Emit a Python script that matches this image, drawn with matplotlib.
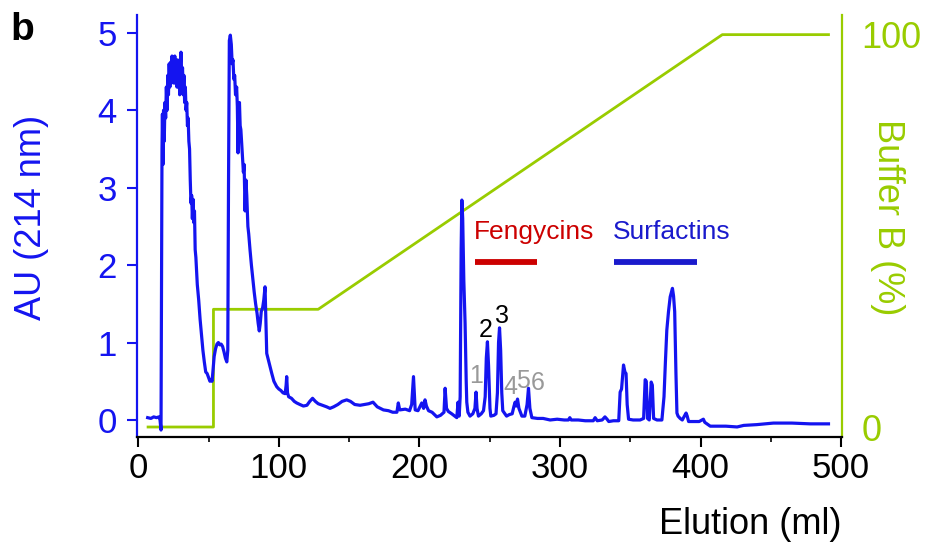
import matplotlib
matplotlib.use("Agg")
import matplotlib.pyplot as plt
from matplotlib.ticker import MultipleLocator

plt.rcParams['font.family'] = ['Liberation Sans', 'DejaVu Sans']

BLUE = '#1414f0'
GREEN = '#99cc00'
RED = '#cc0000'

# Chromatogram trace (Elution ml, AU at 214 nm)
elution = [6.7, 9, 11, 13, 14.7, 15.5, 16.2, 16.6, 16.9, 17.2, 17.6, 18.0, 18.5, 19.0, 19.5, 20, 20.5, 21, 21.5,
           22, 22.5, 23, 23.5, 24, 24.5, 25, 25.5, 26, 26.5, 27, 27.5, 28, 28.5, 29, 29.5, 30, 30.4, 31, 31.5,
           32, 32.5, 33, 33.5, 34, 34.5, 35, 35.5, 36, 36.5, 37, 37.5, 38, 38.5, 39, 39.5, 40, 40.5, 41, 42,
           43, 44, 45, 46, 47, 48, 49, 50, 51, 52, 52.5, 53, 54, 55, 56, 57, 58, 59, 60, 61, 62, 63, 63.7,
           64.2, 64.8, 65.5, 66.2, 66.8, 67.4, 68, 68.6, 69.2, 70, 70.5, 71, 71.5, 72, 72.5, 73, 73.5, 74.2,
           74.8, 75.3, 76, 76.6, 77.2, 78, 78.6, 79.5, 80.5, 81.5, 82.5, 83.5, 84.5, 85.3, 86.1, 86.8, 87.5,
           88.5, 89.3, 90.2, 90.8, 91.4, 92.5, 93.7, 95, 96.5, 98.5, 100, 101.5, 103, 104.5, 105.2, 105.6,
           106.2, 107, 109, 111, 112.7, 115, 117.5, 120, 122, 124, 126, 128, 131, 134, 136.4, 139, 142, 145,
           148.3, 151, 154, 157.8, 161, 164, 167, 170, 174.4, 178, 181, 184, 185, 186, 190, 193, 194.5,
           195.8, 197, 199, 201.7, 203, 204, 205, 206.5, 209, 212.4, 215, 217.5, 218.3, 219.3, 220.6, 223,
           226.6, 227.5, 228.3, 229, 229.7, 230.2, 230.8, 231.6, 232.5, 233.3, 233.7, 234.5, 236, 238,
           239.5, 240.3, 241, 242, 244, 245.6, 246.8, 247.6, 248.4, 249.2, 250.2, 250.8, 253, 254.5, 255.5,
           256.3, 257, 257.8, 258.6, 259.3, 262, 264, 266, 267.3, 268.1, 268.9, 269.8, 270.8, 272.9, 275,
           276.6, 277.6, 278.6, 280, 284, 288, 293, 298, 303, 306, 307, 308, 313, 318, 323.7, 325, 326.5,
           330, 332, 333.5, 334.7, 338, 341.8, 342.8, 343.8, 345.2, 346.2, 347, 347.8, 348.8, 352, 357,
           359.5, 360.6, 361.4, 362.3, 363.5, 364.9, 365.7, 366.6, 369, 372.5, 374, 375, 376, 377.2, 378.4,
           380, 380.8, 381.6, 382.5, 383.2, 384, 385.5, 387, 388.5, 389.7, 390.5, 391.5, 395, 399, 402, 403,
           406.9, 412, 418, 426, 430.7, 440, 451.8, 465, 478, 491]
au = [0.03, 0.02, 0.04, 0.03, 0.04, 0.0, -0.13, 2.0, 3.5, 3.95, 3.3, 4.0, 3.6, 4.1, 3.9, 4.3, 4.0, 4.45, 4.2,
      4.6, 4.3, 4.62, 4.35, 4.7, 4.4, 4.65, 4.35, 4.7, 4.4, 4.6, 4.3, 4.65, 4.3, 4.55, 4.2, 4.6, 4.75, 4.4, 4.55,
      4.2, 4.45, 4.1, 4.3, 4.0, 4.1, 3.8, 3.9, 3.6, 3.5, 3.1, 2.8, 2.9, 2.6, 2.85, 2.55, 2.7, 2.2, 2.1, 1.75,
      1.55, 1.3, 1.1, 0.9, 0.75, 0.62, 0.6, 0.55, 0.5, 0.52, 0.5, 0.6, 0.82, 0.92, 0.98, 1.0, 0.97, 0.98, 0.95,
      0.88, 0.8, 0.75, 0.9,
      3.0, 4.9, 4.97, 4.85, 4.6, 4.65, 4.4, 4.45, 4.2, 4.3, 4.05, 3.45, 4.0, 4.1, 3.8, 3.75, 3.6, 3.4,
      3.2, 3.3, 2.7, 3.1, 2.9, 2.5, 2.4, 2.2, 2.0, 1.82, 1.65, 1.5, 1.38, 1.25, 1.15, 1.25, 1.4,
      1.45, 1.55, 1.72, 1.3, 0.86, 0.78, 0.69, 0.6, 0.5, 0.43, 0.4, 0.38, 0.35, 0.34, 0.45, 0.56,
      0.35, 0.3, 0.28, 0.24, 0.22, 0.2, 0.18, 0.19, 0.24, 0.28, 0.24, 0.21, 0.19, 0.17, 0.15, 0.17, 0.2, 0.24,
      0.26, 0.24, 0.2, 0.19, 0.2, 0.21, 0.23, 0.17, 0.13, 0.12, 0.1, 0.1, 0.22, 0.13, 0.14, 0.12, 0.2,
      0.56, 0.13, 0.12, 0.22, 0.15, 0.26, 0.18, 0.12, 0.1, 0.04, 0.06, 0.1, 0.41, 0.15, 0.11, 0.08,
      0.03, 0.23, 0.05, 0.3, 2.2, 2.84, 2.6, 1.8, 1.25, 0.5, 0.23, 0.1, 0.05, 0.08,
      0.15, 0.36, 0.15, 0.05, 0.08, 0.12, 0.3, 0.8, 1.01, 0.7, 0.15, 0.05, 0.06, 0.08, 0.35,
      1.0, 1.19, 0.9, 0.35, 0.12, 0.05, 0.07, 0.08, 0.18, 0.23, 0.18, 0.27, 0.15, 0.05, 0.05,
      0.2, 0.41, 0.15, 0.03, 0.02, 0.02, 0.0, 0.01, 0.0, 0.0, 0.03, 0.0, 0.0, -0.01, -0.01, 0.03, -0.01,
      0.0, 0.04, 0.01, -0.02, -0.01, -0.01, 0.36, 0.4, 0.71, 0.62, 0.6, 0.2, 0.01, 0.0, 0.0,
      0.02, 0.52, 0.5, 0.02, 0.0, 0.49, 0.45, 0.02, 0.0, 0.0, 0.3, 0.75, 1.16, 1.4, 1.59,
      1.7, 1.6, 1.4, 0.6, 0.09, 0.05, 0.02, 0.0, 0.05, 0.09, 0.05, -0.02, -0.02, -0.02, 0.01, -0.03,
      -0.08, -0.08, -0.08, -0.09, -0.07, -0.06, -0.04, -0.04, -0.05, -0.05]

# Buffer B gradient (%)
grad_ml = [7, 53.5, 53.5, 128, 415.5, 491]
grad_pct = [0, 0, 30, 30, 100, 100]

# Peak labels
peak_labels = ['1', '2', '3', '4', '5', '6']
peak_x = [240.3, 246.9, 258.6, 264.6, 273.5, 283.8]
peak_y = [0.474, 1.076, 1.249, 0.336, 0.413, 0.388]
peak_colors = ['#999999', 'black', 'black', '#999999', '#999999', '#999999']

# Fraction bars
groups = ['Fengycins', 'Surfactins']
group_start = [239.6, 338.6]
group_end = [283.7, 397.4]
group_colors = [RED, '#1a1acc']

fig = plt.figure(figsize=(9.28, 5.52), dpi=100)
ax = fig.add_axes([0.1473, 0.2083, 0.7600, 0.7645])
ax2 = ax.twinx()

ax2.plot(grad_ml, grad_pct, color=GREEN, lw=2.0, zorder=1)
ax.plot(elution, au, color=BLUE, lw=2.3, zorder=3)
ax.set_zorder(ax2.get_zorder() + 1)
ax.patch.set_visible(False)

ax.set_xlim(-1.1, 500.6)
ax.set_ylim(-0.22, 5.23)
ax2.set_ylim(-2.55, 105)

for s in ['top']:
    ax.spines[s].set_visible(False)
    ax2.spines[s].set_visible(False)
ax.spines['left'].set_color(BLUE)
ax.spines['left'].set_linewidth(1.6)
ax.spines['bottom'].set_color('black')
ax.spines['bottom'].set_linewidth(1.6)
ax.spines['right'].set_visible(False)
ax2.spines['left'].set_visible(False)
ax2.spines['bottom'].set_visible(False)
ax2.spines['right'].set_color(GREEN)
ax2.spines['right'].set_linewidth(1.6)

ax.set_xticks([0, 100, 200, 300, 400, 500])
ax.xaxis.set_minor_locator(MultipleLocator(50))
ax.set_yticks([0, 1, 2, 3, 4, 5])
ax.tick_params(axis='x', which='major', length=7, width=1.5, pad=4, labelsize=25, colors='black')
ax.tick_params(axis='x', which='minor', length=3.5, width=1.2, colors='black')
ax.tick_params(axis='y', which='major', length=7.5, width=1.5, pad=7, labelsize=25, colors=BLUE)
ax2.set_yticks([0, 100])
ax2.tick_params(axis='y', length=0, pad=14, labelsize=26, colors=GREEN)

for lab, x, y, c in zip(peak_labels, peak_x, peak_y, peak_colors):
    ax.text(x, y, lab, color=c, fontsize=18, ha='center', va='baseline', zorder=5)

for name, x0, x1, c in zip(groups, group_start, group_end, group_colors):
    ax.plot([x0, x1], [2.035, 2.035], color=c, lw=4.2, solid_capstyle='butt', zorder=5)
    ax.text(x0 - 0.8, 2.335, name, color=c, fontsize=19, ha='left', va='baseline', zorder=5)

fig.text(32 / 928, 1 - 217 / 552, 'AU (214 nm)', color=BLUE, fontsize=26, rotation=90,
         ha='center', va='center')
fig.text(888 / 928, 1 - 217 / 552, 'Buffer B (%)', color=GREEN, fontsize=26, rotation=270,
         ha='center', va='center')
fig.text(750 / 928, 1 - 525 / 552, 'Elution (ml)', color='black', fontsize=26, ha='center', va='center')
fig.text(10 / 928, 1 - 40 / 552, 'b', color='black', fontsize=28, fontweight='bold', ha='left', va='baseline')

fig.savefig('out.png', dpi=100)
